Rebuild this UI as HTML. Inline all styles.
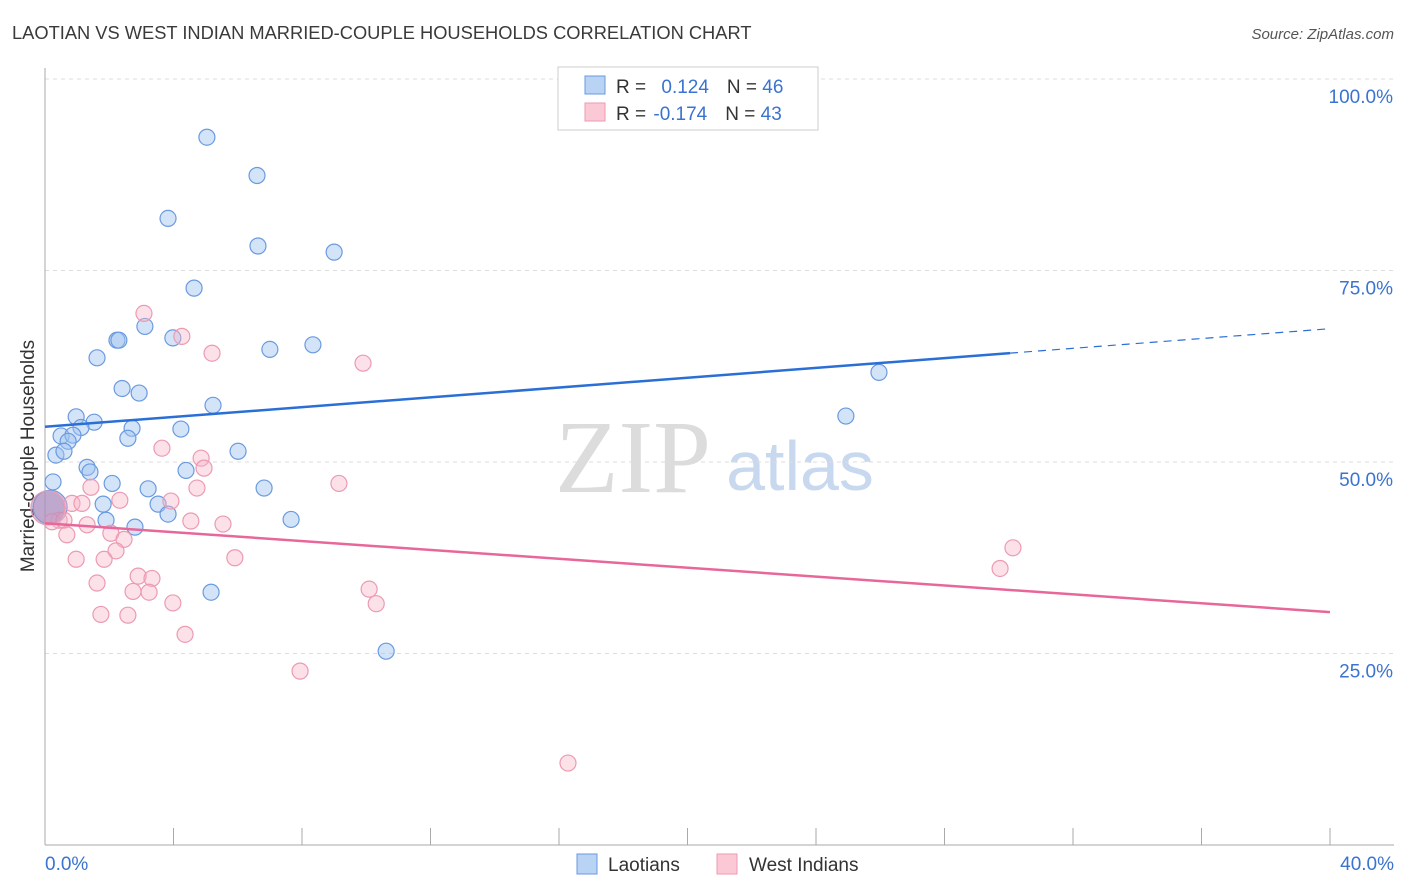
<!DOCTYPE html>
<html><head><meta charset="utf-8"><style>
body{margin:0;background:#fff;font-family:"Liberation Sans",sans-serif;}
svg{display:block}
</style></head><body>
<svg id="c" width="1406" height="892">
<text x="12" y="39" font-size="18.3" fill="#3a3a3a">LAOTIAN VS WEST INDIAN MARRIED-COUPLE HOUSEHOLDS CORRELATION CHART</text>
<text x="1394" y="39" font-size="15" fill="#555" text-anchor="end" font-style="italic">Source: ZipAtlas.com</text>
<text x="633" y="492" font-size="104" fill="#dcdcdc" font-family="Liberation Serif,serif" text-anchor="middle">ZIP</text>
<text x="800" y="490" font-size="70" fill="#c8d8ee" text-anchor="middle">atlas</text>
<text transform="translate(34,456) rotate(-90)" font-size="19" fill="#333" text-anchor="middle">Married-couple Households</text>
<g id="grid"></g><g id="pts"></g><g id="lines"></g>
<g>
<rect x="558" y="67" width="260" height="63" fill="#fff" stroke="#ccc"/>
<rect x="585" y="76" width="20" height="18" fill="#b9d3f5" stroke="#6a9ae0"/>
<rect x="585" y="103" width="20" height="18" fill="#fbc9d6" stroke="#ec9ab2"/>
<text x="616" y="93" font-size="19" fill="#333">R = <tspan fill="#3a73d0" dx="10">0.124</tspan><tspan fill="#333" dx="18">N = </tspan><tspan fill="#3a73d0">46</tspan></text>
<text x="616" y="120" font-size="19" fill="#333">R = <tspan fill="#3a73d0" dx="2">-0.174</tspan><tspan fill="#333" dx="18">N = </tspan><tspan fill="#3a73d0">43</tspan></text>
</g>
<g>
<rect x="577" y="854" width="20" height="20" fill="#b9d3f5" stroke="#6a9ae0"/>
<text x="608" y="871" font-size="19" fill="#333">Laotians</text>
<rect x="717" y="854" width="20" height="20" fill="#fbc9d6" stroke="#ec9ab2"/>
<text x="749" y="871" font-size="19" fill="#333">West Indians</text>
</g>
</svg>
<script>
const yTicks=[100,75,50,25];
const blueX=[5.04,6.60,3.83,6.63,9.00,4.64,3.11,2.24,2.30,3.98,7.00,8.34,1.62,2.40,2.93,5.23,0.97,1.53,1.12,0.50,0.87,2.71,2.58,4.23,0.72,0.34,0.59,6.01,1.31,1.40,4.39,2.09,0.25,3.21,6.82,1.81,3.52,3.83,1.90,2.80,7.66,5.17,10.62,25.96,24.93,0.16];
const blueY=[92.4,87.4,81.8,78.2,77.4,72.7,67.7,65.9,65.9,66.2,64.7,65.3,63.6,59.6,59.0,57.4,55.9,55.2,54.5,53.4,53.5,54.4,53.1,54.3,52.7,50.9,51.4,51.4,49.3,48.7,48.9,47.2,47.4,46.5,46.6,44.5,44.5,43.2,42.4,41.5,42.5,33.0,25.3,61.7,56.0,44.1];
const pinkX=[3.08,4.26,5.20,9.90,3.64,4.86,4.95,1.43,4.73,9.15,2.33,0.84,1.15,3.92,0.44,0.22,0.59,1.31,4.54,5.54,0.68,2.05,2.46,2.21,0.97,1.84,5.91,2.90,3.33,1.62,2.74,3.24,3.98,1.74,2.58,10.09,10.31,4.36,7.94,16.28,30.13,29.73,0.09];
const pinkY=[69.4,66.4,64.2,62.9,51.8,50.5,49.2,46.7,46.6,47.2,45.0,44.6,44.6,44.9,42.4,42.2,42.4,41.8,42.3,41.9,40.5,40.7,39.9,38.4,37.3,37.3,37.5,35.1,34.8,34.2,33.1,33.0,31.6,30.1,30.0,33.4,31.5,27.5,22.7,10.7,38.8,36.1,44.0];
const blueTrend=[54.6,67.4], pinkTrend=[42.0,30.4];
const NS="http://www.w3.org/2000/svg";
const X=v=>45+v/40*1285, Y=v=>845-v*7.66;
function mk(t,a,p){const e=document.createElementNS(NS,t);for(const k in a)e.setAttribute(k,a[k]);p.appendChild(e);return e;}
const g=document.getElementById('grid');
yTicks.forEach(t=>{
 const l=mk('line',{x1:45,x2:1394,y1:Y(t),y2:Y(t),stroke:'#ddd','stroke-dasharray':'4,4'},g);
 
 
 const tx=mk('text',{x:1393,y:Y(t)+24,'font-size':19,fill:'#3a73d0','text-anchor':'end'},g);
 tx.textContent=t.toFixed(1)+'%';
 
 
});
mk('line',{x1:45,x2:45,y1:68,y2:845,stroke:'#aaa'},g);
mk('line',{x1:45,x2:1394,y1:845,y2:845,stroke:'#aaa'},g);
for(let i=0;i<=10;i++){const tk=mk('line',{x1:X(i*4),x2:X(i*4),y1:828,y2:845,stroke:'#aaa'},g);
 
 }
const t0=mk('text',{x:45,y:870,'font-size':19,fill:'#3a73d0'},g);t0.textContent='0.0%';


const t1=mk('text',{x:1394,y:870,'font-size':19,fill:'#3a73d0','text-anchor':'end'},g);t1.textContent='40.0%';


const p=document.getElementById('pts');
function dots(xs,ys,fill,stroke,name){xs.forEach((x,i)=>{
 const big=i===xs.length-1;
 const c=mk('circle',{cx:X(x),cy:Y(ys[i]),r:big?17:8,fill:big?'rgba(170,140,190,0.5)':fill,stroke:stroke,'stroke-width':1.2},p);
 
 });}
dots(blueX,blueY,'rgba(160,195,240,0.45)','#6a9ae0','laotian-point');
dots(pinkX,pinkY,'rgba(248,180,200,0.4)','#ec9ab2','west-indian-point');
const L=document.getElementById('lines');
const bEnd=30.04,bAt=v=>blueTrend[0]+(blueTrend[1]-blueTrend[0])*v/40;
const b1=mk('line',{x1:X(0),y1:Y(bAt(0)),x2:X(bEnd),y2:Y(bAt(bEnd)),stroke:'#2a6fd6','stroke-width':2.5},L);


const b2=mk('line',{x1:X(bEnd),y1:Y(bAt(bEnd)),x2:X(40),y2:Y(bAt(40)),stroke:'#2a6fd6','stroke-width':1.2,'stroke-dasharray':'8,6'},L);


const pl=mk('line',{x1:X(0),y1:Y(pinkTrend[0]),x2:X(40),y2:Y(pinkTrend[1]),stroke:'#e8679a','stroke-width':2.5},L);


</script>
</body></html>
